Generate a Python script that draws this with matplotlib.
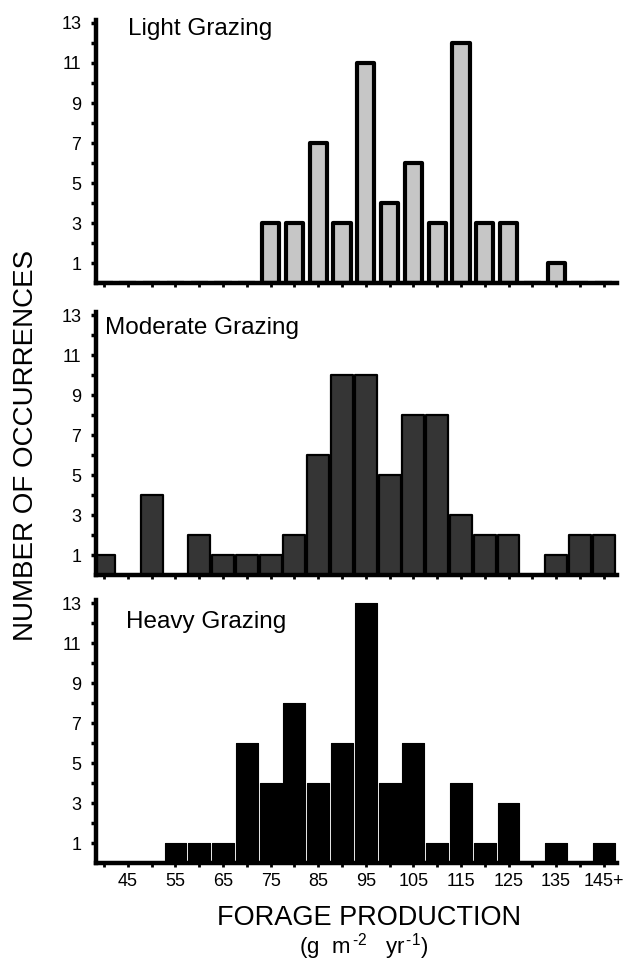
import matplotlib
matplotlib.use("Agg")
import matplotlib.pyplot as plt
import numpy as np

plt.rcParams['font.family'] = ['Liberation Sans', 'DejaVu Sans']
plt.rcParams['mathtext.fontset'] = 'custom'
plt.rcParams['mathtext.rm'] = 'Liberation Sans'
plt.rcParams['mathtext.it'] = 'Liberation Sans'

# ---- data ----
bins = [40, 45, 50, 55, 60, 65, 70, 75, 80, 85, 90, 95, 100, 105, 110, 115,
        120, 125, 130, 135, 140, 145]
light = [0, 0, 0, 0, 0, 0, 0, 3, 3, 7, 3, 11, 4, 6, 3, 12, 3, 3, 0, 1, 0, 0]
moderate = [1, 0, 4, 0, 2, 1, 1, 1, 2, 6, 10, 10, 5, 8, 8, 3, 2, 2, 0, 1, 2, 2]
heavy = [0, 0, 0, 1, 1, 1, 6, 4, 8, 4, 6, 13, 4, 6, 1, 4, 1, 3, 0, 1, 0, 1]
xtick_labels = ['45', '55', '65', '75', '85', '95', '105', '115', '125', '135', '145+']
panel_titles = ['Light Grazing', 'Moderate Grazing', 'Heavy Grazing']
ytick_major = [1, 3, 5, 7, 9, 11, 13]
ytick_minor = [2, 4, 6, 8, 10, 12]

W, H = 636, 964
fig = plt.figure(figsize=(W / 100, H / 100), dpi=100)

left = 96 / W
width = 521 / W
height = 263 / H
bottoms_px = [283, 575, 863]

styles = [
    dict(width=3.6, color='#c6c6c6', edgecolor='black', linewidth=3.0),
    dict(width=4.6, color='#353535', edgecolor='black', linewidth=1.6),
    dict(width=4.6, color='black', edgecolor='black', linewidth=0.8),
]
series = [light, moderate, heavy]
title_pos = [(128, 35), (105, 334), (126, 628)]

for i, (vals, st, bpx) in enumerate(zip(series, styles, bottoms_px)):
    ax = fig.add_axes([left, (H - bpx) / H, width, height])
    bars = ax.bar(bins, vals, align='center', zorder=2, **st)
    for b in bars:
        b.set_joinstyle('round')
    ax.set_xlim(38.3, 147.8)
    ax.set_ylim(0, 13.15)
    for s in ['top', 'right']:
        ax.spines[s].set_visible(False)
    for s in ['left', 'bottom']:
        ax.spines[s].set_linewidth(3.2)
        ax.spines[s].set_capstyle('projecting')
    ax.set_yticks(ytick_major)
    ax.set_yticklabels([str(v) for v in ytick_major])
    ax.set_yticks(ytick_minor, minor=True)
    ax.tick_params(axis='y', which='both', direction='out', length=3.5,
                   width=2.5, labelsize=13, pad=7)
    ax.set_xticks(bins)
    if i == 2:
        labs = []
        k = 0
        for j in range(len(bins)):
            if j % 2 == 1:
                labs.append(xtick_labels[k])
                k += 1
            else:
                labs.append('')
        ax.set_xticklabels(labs)
    else:
        ax.set_xticklabels([])
    ax.tick_params(axis='x', direction='out', length=3, width=2,
                   labelsize=13, pad=4)
    tx, ty = title_pos[i]
    fig.text(tx / W, 1 - ty / H, panel_titles[i], fontsize=17.5,
             ha='left', va='baseline')

fig.text(26 / W, 1 - 445 / H, 'NUMBER OF OCCURRENCES', rotation=90,
         fontsize=20, ha='center', va='center')
fig.text(369 / W, 1 - 925 / H, 'FORAGE PRODUCTION', fontsize=19.5,
         ha='center', va='baseline')
fig.text(364 / W, 1 - 953 / H,
         '(g  m$^{\\,\\mathrm{\u2010}2}$   yr$^{\\,\\mathrm{\u2010}1}$)',
         fontsize=16, ha='center', va='baseline')

fig.savefig('out.png', dpi=100)
